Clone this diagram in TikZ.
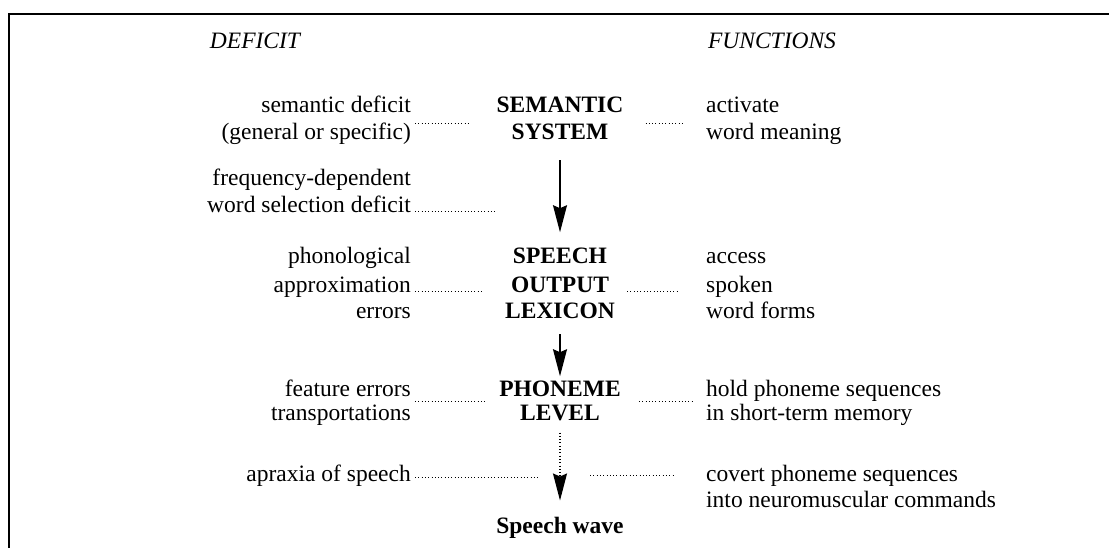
\documentclass[tikz,border=0pt]{standalone}
\usepackage{fontspec}
\setmainfont{Liberation Serif}
\usetikzlibrary{arrows.meta,calc}
\begin{document}
\begin{tikzpicture}[x=1pt,y=-1pt,
  txt/.style={inner sep=0pt, font=\fontsize{23.5}{27}\selectfont},
  deficitcol/.style={txt, anchor=base east},
  funccol/.style={txt, anchor=base west},
  levelcol/.style={txt, anchor=base, font=\fontsize{23.5}{27}\selectfont\bfseries},
  headtxt/.style={txt, anchor=base, font=\fontsize{23.5}{27}\selectfont\itshape},
  leader/.style={line width=1pt, dash pattern=on 0.9pt off 2.4pt},
  flow/.style={line width=1.5pt, -{Stealth[length=27pt,width=14pt,inset=3pt]}},
  dottedflow/.style={leader, line width=1.3pt, -{Stealth[length=27pt,width=14pt,inset=3pt]}},
]
\useasboundingbox (0,0) rectangle (1109,548);
\draw[line width=2pt] (9,548) -- (9,14) -- (1109,14);

% headings
\node[headtxt] (hdef) at (255,49) {DEFICIT};
\node[headtxt] (hfun) at (772,49) {FUNCTIONS};

% semantic system
\node[deficitcol] (d1a) at (411,113) {semantic deficit};
\node[deficitcol] (d1b) at (411,140) {(general or specific)};
\node[levelcol] (c1a) at (560,113) {SEMANTIC};
\node[levelcol] (c1b) at (560,140) {SYSTEM};
\node[funccol] (f1a) at (706,113) {activate};
\node[funccol] (f1b) at (706,140) {word meaning};
\draw[leader] ($(d1a.base east)+(4,11)$) -- ($(c1a.base west)+(-28,11)$);
\draw[leader] ($(c1a.base east)+(22,11)$) -- ($(f1a.base west)+(-22,11)$);

% word selection
\node[deficitcol] (d2a) at (411,186) {frequency-dependent};
\node[deficitcol] (d2b) at (411,213) {word selection deficit};
\draw[leader] ($(d2b.base east)+(4,-1)$) -- ++(82,0);

% speech output lexicon
\node[deficitcol] (d3a) at (411,264) {phonological};
\node[deficitcol] (d3b) at (411,292) {approximation};
\node[deficitcol] (d3c) at (411,319) {errors};
\node[levelcol] (c3a) at (560,264) {SPEECH};
\node[levelcol] (c3b) at (560,292) {OUTPUT};
\node[levelcol] (c3c) at (560,319) {LEXICON};
\node[funccol] (f3a) at (706,264) {access};
\node[funccol] (f3b) at (706,292) {spoken};
\node[funccol] (f3c) at (706,319) {word forms};
\draw[leader] ($(d3b.base east)+(4,0)$) -- ($(c3b.base west)+(-28,0)$);
\draw[leader] ($(c3b.base east)+(18,0)$) -- ($(f3b.base west)+(-28,0)$);

% phoneme level
\node[deficitcol] (d4a) at (411,396) {feature errors};
\node[deficitcol] (d4b) at (411,420) {transportations};
\node[levelcol] (c4a) at (560,396) {PHONEME};
\node[levelcol] (c4b) at (560,420) {LEVEL};
\node[funccol] (f4a) at (706,396) {hold phoneme sequences};
\node[funccol] (f4b) at (706,420) {in short-term memory};
\draw[leader] ($(d4a.base east)+(4,5)$) -- ($(c4a.base west)+(-14,5)$);
\draw[leader] ($(c4a.base east)+(18,5)$) -- ($(f4a.base west)+(-14,5)$);

% apraxia
\node[deficitcol] (d5) at (411,481) {apraxia of speech};
\node[funccol] (f5a) at (706,481) {covert phoneme sequences};
\node[funccol] (f5b) at (706,507) {into neuromuscular commands};
\coordinate (apl) at (538,0);
\coordinate (apr) at (590,0);
\draw[leader] ($(d5.base east)+(4,-4)$) -- (apl |- {$(d5.base east)+(4,-4)$});
\draw[leader] (apr |- {$(f5a.base west)+(0,-6)$}) -- ($(f5a.base west)+(-32,-6)$);

% speech wave
\node[levelcol] (sw) at (560,533) {Speech wave};

% arrows
\draw[flow] ($(c1b.south)+(0,20)$) -- ($(c3a.north)+(0,-16)$);
\draw[flow] ($(c3c.south)+(0,15)$) -- ($(c4a.north)+(0,-4)$);
\draw[dottedflow] ($(c4b.south)+(0,12)$) -- ($(c4b.south |- sw.north)+(0,-16)$);
\end{tikzpicture}
\end{document}
